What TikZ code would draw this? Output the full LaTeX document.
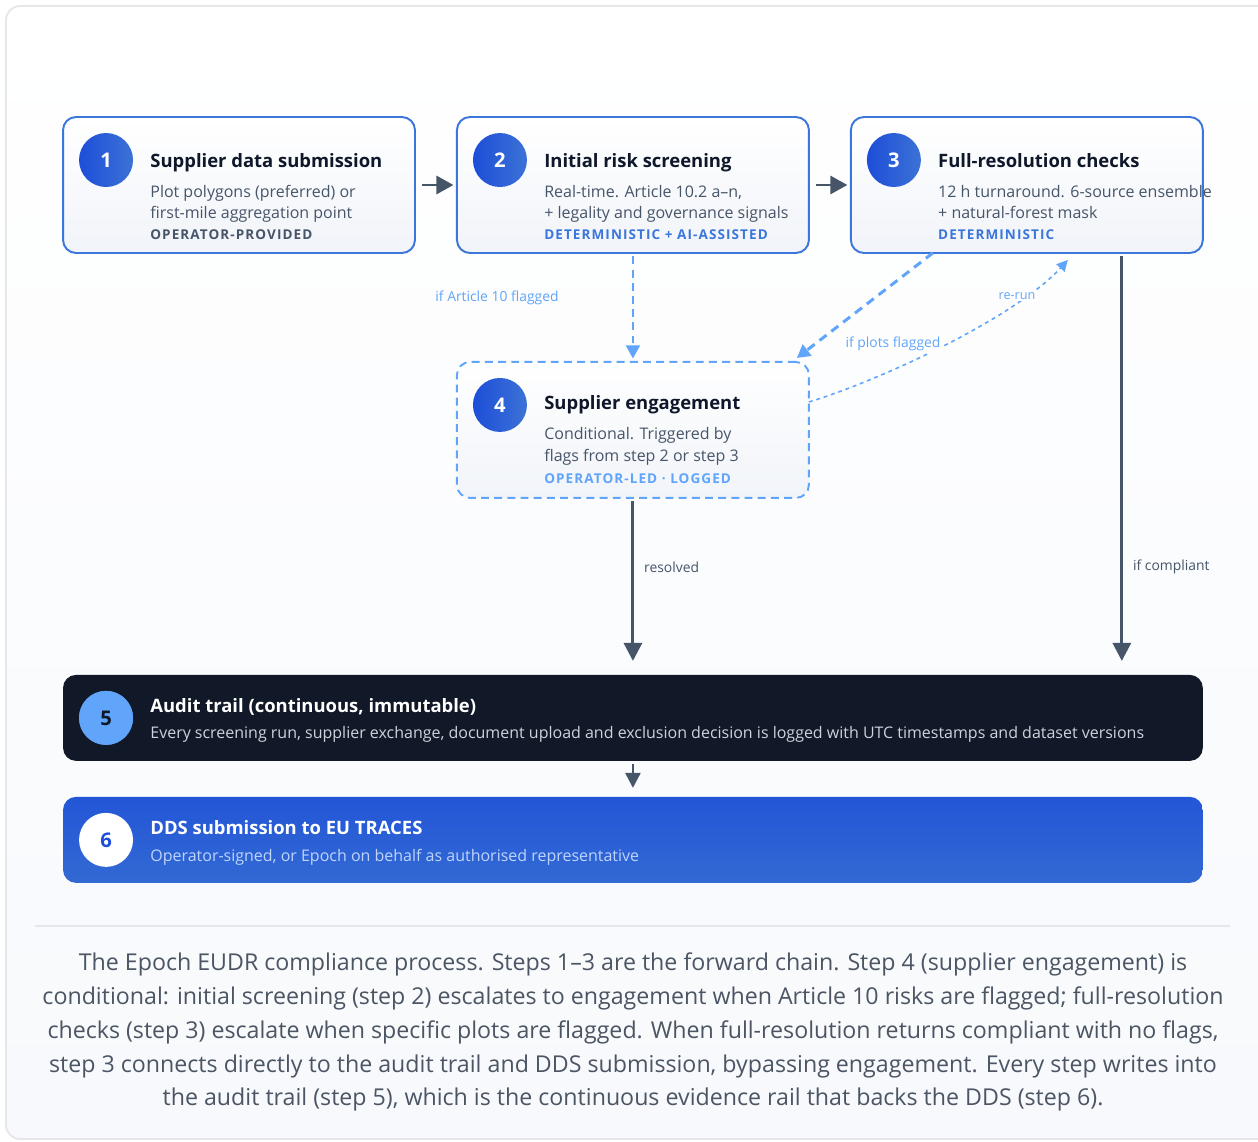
\documentclass[tikz,border=0pt]{standalone}
\usepackage{fontspec}
\setmainfont{Open Sans}
\newfontfamily\tagfont[LetterSpace=8]{Open Sans}
\usetikzlibrary{arrows.meta, positioning, calc}

\definecolor{boxblue}{HTML}{3B76DB}
\definecolor{boxbottom}{HTML}{F1F4F9}
\definecolor{flagblue}{HTML}{60A5FA}
\definecolor{slate}{HTML}{475569}
\definecolor{ink}{HTML}{0F172A}
\definecolor{navy}{HTML}{111827}
\definecolor{framegray}{HTML}{E5E7EB}
\definecolor{pagebottom}{HTML}{F7F9FC}
\definecolor{capgray}{HTML}{4B5563}
\definecolor{circA}{HTML}{1D4ED8}
\definecolor{circB}{HTML}{3C72D6}
\definecolor{ddsA}{HTML}{2356D7}
\definecolor{ddsB}{HTML}{3269D3}
\definecolor{ddsbody}{HTML}{BFD4FB}
\definecolor{auditbody}{HTML}{CDD3DC}

\begin{document}
\begin{tikzpicture}[
		x=0.02cm, y=-0.02cm,
		node distance = 0.84cm,
		>={Triangle[length=0.36cm,width=0.36cm]},
		stepbox/.style={
				rectangle,
				minimum width = 7.04cm,
				minimum height = 2.72cm,
				inner sep=0pt,
				outer sep=0pt,
				rounded corners=0.26cm,
				line width=1.1pt,
				draw=boxblue,
				top color=white,
				bottom color=boxbottom
			},
		condbox/.style={
				stepbox,
				draw=flagblue,
				dash pattern=on 4.5pt off 3pt
			},
		bar/.style={
				rectangle,
				minimum width = 22.8cm,
				minimum height = 1.72cm,
				inner sep=0pt,
				outer sep=0pt,
				rounded corners=0.26cm
			},
		badge/.style={
				circle,
				minimum size = 1.08cm,
				inner sep=0pt,
				text=white,
				font=\fontsize{11.5}{13}\selectfont\bfseries,
				left color=circA,
				right color=circB
			},
		title/.style={anchor=base west, inner sep=0pt, text=ink, font=\fontsize{10.5}{13}\selectfont\bfseries},
		body/.style={anchor=base west, inner sep=0pt, text=slate, font=\fontsize{9.1}{11}\selectfont},
		tag/.style={anchor=base west, inner sep=0pt, font=\fontsize{7.7}{9}\tagfont\bfseries},
		flow/.style={->, draw=slate, line width=1.7pt},
		flag/.style={->, draw=flagblue, line width=1.1pt, dash pattern=on 4.5pt off 3pt,
				>={Triangle[length=0.26cm,width=0.28cm]}},
		rerun/.style={->, draw=flagblue, line width=0.9pt, dash pattern=on 2.2pt off 2.2pt,
				>={Triangle[length=0.22cm,width=0.22cm]}},
		edgelabel/.style={inner sep=1pt, font=\fontsize{7.9}{9}\selectfont},
	]

	% page and frame
	\useasboundingbox (0,0) rectangle (1258,1142);
	\clip (0,0) rectangle (1258,1142);
	\draw[framegray, line width=1.1pt, rounded corners=0.28cm, top color=white, bottom color=pagebottom]
		(6,6) rectangle (1290,1139);

	% forward chain
	\node[stepbox] (s1) at (239,185) {};
	\node[stepbox, right= of s1] (s2) {};
	\node[stepbox, right= of s2] (s3) {};

	\node[badge] (n1) at ([shift={(43,43)}]s1.north west) {1};
	\node[title] at ([shift={(87,50)}]s1.north west) {Supplier data submission};
	\node[body] at ([shift={(87,80)}]s1.north west) {Plot polygons (preferred) or};
	\node[body] at ([shift={(87,101)}]s1.north west) {first-mile aggregation point};
	\node[tag, text=slate] at ([shift={(87,122)}]s1.north west) {OPERATOR-PROVIDED};

	\node[badge] (n2) at ([shift={(43,43)}]s2.north west) {2};
	\node[title] at ([shift={(87,50)}]s2.north west) {Initial risk screening};
	\node[body] at ([shift={(87,80)}]s2.north west) {Real-time. Article 10.2 a–n,};
	\node[body] at ([shift={(87,101)}]s2.north west) {+ legality and governance signals};
	\node[tag, text=boxblue] at ([shift={(87,122)}]s2.north west) {DETERMINISTIC + AI-ASSISTED};

	\node[badge] (n3) at ([shift={(43,43)}]s3.north west) {3};
	\node[title] at ([shift={(87,50)}]s3.north west) {Full-resolution checks};
	\node[body] at ([shift={(87,80)}]s3.north west) {12 h turnaround. 6-source ensemble};
	\node[body] at ([shift={(87,101)}]s3.north west) {+ natural-forest mask};
	\node[tag, text=boxblue] at ([shift={(87,122)}]s3.north west) {DETERMINISTIC};

	% conditional step
	\node[condbox, below=2.18cm of s2] (s4) {};
	\node[badge] (n4) at ([shift={(43,43)}]s4.north west) {4};
	\node[title] at ([shift={(87,48)}]s4.north west) {Supplier engagement};
	\node[body] at ([shift={(87,78)}]s4.north west) {Conditional. Triggered by};
	\node[body] at ([shift={(87,100)}]s4.north west) {flags from step 2 or step 3};
	\node[tag, text=flagblue] at ([shift={(87,122)}]s4.north west) {OPERATOR-LED · LOGGED};

	% audit trail and DDS
	\node[bar, fill=navy, below=3.54cm of s4] (s5) {};
	\node[badge, fill=flagblue, left color=flagblue, right color=flagblue, text=ink] (n5)
		at ([shift={(43,43)}]s5.north west) {5};
	\node[title, text=white] at ([shift={(87,38)}]s5.north west) {Audit trail (continuous, immutable)};
	\node[body, text=auditbody] at ([shift={(87,64)}]s5.north west)
		{Every screening run, supplier exchange, document upload and exclusion decision is logged with UTC timestamps and dataset versions};

	\node[bar, top color=ddsA, bottom color=ddsB, below=0.72cm of s5] (s6) {};
	\node[badge, left color=white, right color=white, text=circA] (n6)
		at ([shift={(43,43)}]s6.north west) {6};
	\node[title, text=white] at ([shift={(87,38)}]s6.north west) {DDS submission to EU TRACES};
	\node[body, text=ddsbody] at ([shift={(87,65)}]s6.north west)
		{Operator-signed, or Epoch on behalf as authorised representative};

	% connectors
	\draw[flow, >={Triangle[length=0.34cm,width=0.36cm]}, shorten <=4pt, shorten >=2pt] (s1) -- (s2);
	\draw[flow, >={Triangle[length=0.34cm,width=0.36cm]}, shorten <=4pt, shorten >=2pt] (s2) -- (s3);

	\draw[flag, shorten <=2pt, shorten >=2pt] (s2.south) -- (s4.north);
	\node[edgelabel, text=flagblue] at (497,298) {if Article 10 flagged};

	\draw[flag, line width=1.7pt, dash pattern=on 5pt off 3.5pt, shorten >=0pt]
		([xshift=1.64cm]s3.south west) -- ([shift={(-12,-4)}]s4.north east);
	\draw[rerun] ([yshift=0.56cm]s4.east) .. controls +(70,-21) and +(-53,58) .. ([shift={(41,7)}]s3.south);
	\node[edgelabel, text=flagblue, fill=white] at (893,344) {if plots flagged};
	\node[edgelabel, text=flagblue, fill=white, font=\fontsize{7.2}{8}\selectfont] at (1017,296) {re-run};

	\draw[flow, shorten <=2pt, shorten >=0.28cm] (s4.south) -- (s5.north);
	\node[edgelabel, text=slate, anchor=west] at (642,567) {resolved};

	\coordinate (bypass) at ([xshift=-1.62cm]s3.south east);
	\draw[flow, shorten <=2pt, shorten >=0.28cm] (bypass) -- (bypass |- s5.north);
	\node[edgelabel, text=slate, anchor=west] at (1131,567) {if compliant};

	\draw[flow, line width=1.4pt, >={Triangle[length=0.3cm,width=0.3cm]}, shorten <=2pt, shorten >=0.18cm] (s5.south) -- (s6.north);

	% caption
	\draw[framegray, line width=1.1pt] (35,926) -- (1230,926);
	\node[text=capgray, align=center, font=\fontsize{13.2}{19.3}\selectfont] (caption) at (633,1032)
		{The Epoch EUDR compliance process. Steps 1–3 are the forward chain. Step 4 (supplier engagement) is\\
		conditional: initial screening (step 2) escalates to engagement when Article 10 risks are flagged; full-resolution\\
		checks (step 3) escalate when specific plots are flagged. When full-resolution returns compliant with no flags,\\
		step 3 connects directly to the audit trail and DDS submission, bypassing engagement. Every step writes into\\
		the audit trail (step 5), which is the continuous evidence rail that backs the DDS (step 6).};

\end{tikzpicture}
\end{document}
